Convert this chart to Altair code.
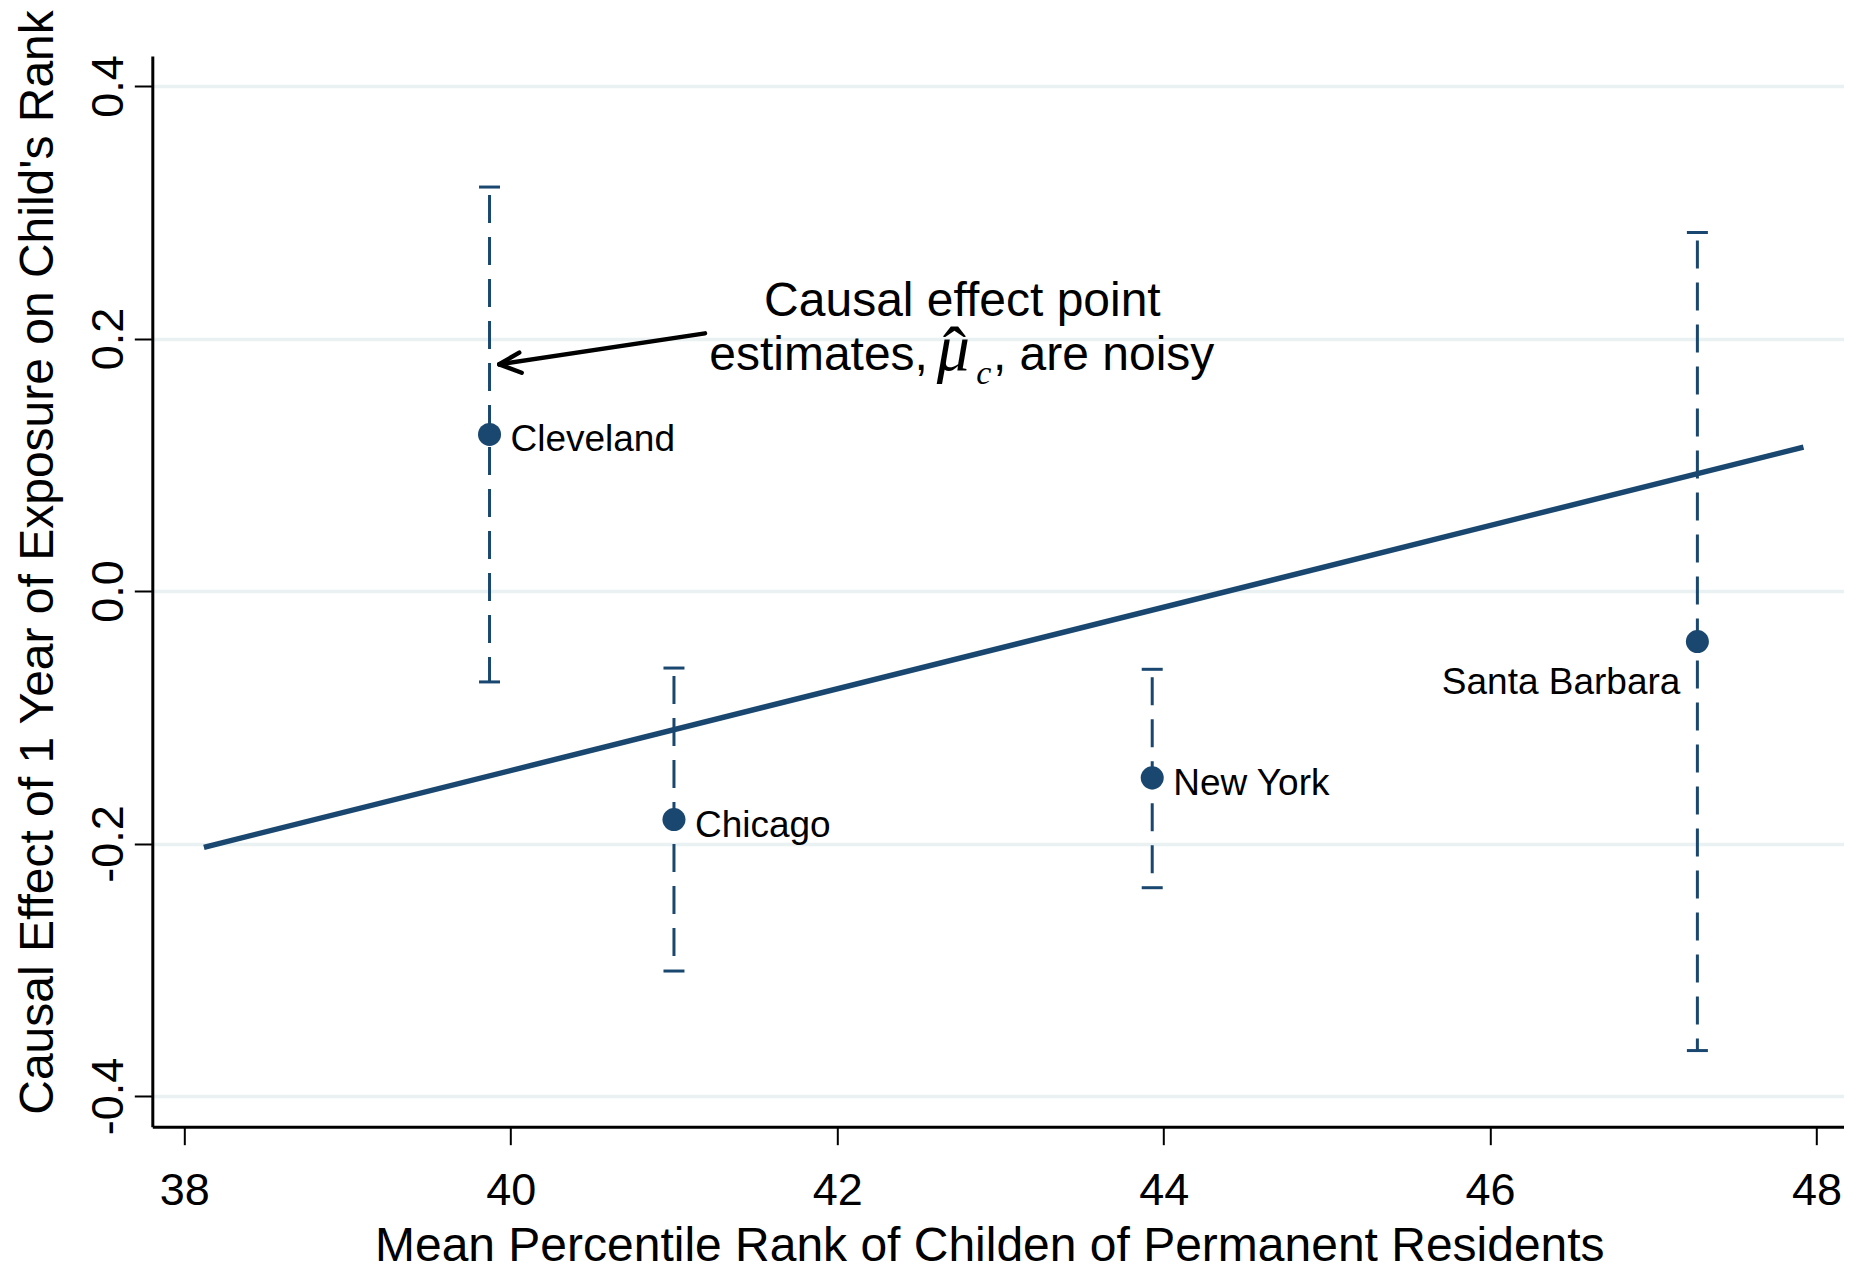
import altair as alt
import pandas as pd

# ---- data ----
cities = ["Cleveland", "Chicago", "New York", "Santa Barbara"]
mean_rank = [39.87, 41.00, 43.93, 47.27]
effect = [0.124, -0.181, -0.148, -0.040]
ci_low = [-0.072, -0.301, -0.235, -0.364]
ci_high = [0.320, -0.061, -0.062, 0.284]

fit_x = [38.12, 47.92]
fit_y = [-0.203, 0.114]

x_ticks = [38, 40, 42, 44, 46, 48]
y_ticks = [-0.4, -0.2, 0.0, 0.2, 0.4]

NAVY = "#1a476f"
FONT = "Liberation Sans"
MATH = "Liberation Serif"

df = pd.DataFrame({"city": cities, "x": mean_rank, "y": effect, "lo": ci_low, "hi": ci_high})
fit = pd.DataFrame({"x": fit_x, "y": fit_y})

xs = alt.Scale(domain=[37.804, 48.17], nice=False, zero=False)
ys = alt.Scale(domain=[-0.4243, 0.4238], nice=False, zero=False)

xaxis = alt.Axis(
    values=x_ticks, format="d", grid=False,
    title="Mean Percentile Rank of Childen of Permanent Residents",
    titleFont=FONT, titleFontSize=48, titleFontWeight="normal", titleColor="black",
    titleX=837, titleY=134, titleAlign="center", titleBaseline="alphabetic", titleAnchor="start",
    labelFont=FONT, labelFontSize=45, labelColor="black", labelBaseline="alphabetic",
    labelPadding=60, labelFlush=False,
    tickSize=18, tickWidth=2, tickColor="black",
    domainColor="black", domainWidth=3,
)
yaxis = alt.Axis(
    values=y_ticks, grid=True, gridColor="#eaf1f3", gridWidth=3.5,
    labelExpr="replace(format(datum.value, '.1f'), '\u2212', '-')",
    title="Causal Effect of 1 Year of Exposure on Child's Rank",
    titleFont=FONT, titleFontSize=48, titleFontWeight="normal", titleColor="black",
    titleAngle=270, titleX=-100, titleY=506, titleAlign="center", titleBaseline="alphabetic",
    labelFont=FONT, labelFontSize=45, labelColor="black", labelAngle=270,
    labelAlign="center", labelBaseline="alphabetic", labelPadding=12, labelFlush=False,
    tickSize=18, tickWidth=2, tickColor="black",
    domainColor="black", domainWidth=3,
)

base = alt.Chart(df)
X = alt.X("x:Q", scale=xs, axis=xaxis)

bars = base.mark_rule(color=NAVY, strokeWidth=3, strokeDash=[28, 14], strokeDashOffset=34).encode(
    x=X, y=alt.Y("hi:Q", scale=ys, axis=yaxis), y2="lo:Q"
)
cap_hi = base.mark_rule(color=NAVY, strokeWidth=3, xOffset=-10.5, x2Offset=10.5).encode(
    x=alt.X("x:Q", scale=xs), x2="x:Q", y=alt.Y("hi:Q", scale=ys)
)
cap_lo = base.mark_rule(color=NAVY, strokeWidth=3, xOffset=-10.5, x2Offset=10.5).encode(
    x=alt.X("x:Q", scale=xs), x2="x:Q", y=alt.Y("lo:Q", scale=ys)
)
fit_line = alt.Chart(fit).mark_line(color=NAVY, strokeWidth=5.5).encode(
    x=alt.X("x:Q", scale=xs), y=alt.Y("y:Q", scale=ys)
)
points = base.mark_circle(size=530, color=NAVY, opacity=1).encode(
    x=alt.X("x:Q", scale=xs), y=alt.Y("y:Q", scale=ys)
)
labels_r = base.transform_filter(alt.datum.city != "Santa Barbara").mark_text(
    align="left", baseline="alphabetic", dx=21, dy=17, font=FONT, fontSize=37, color="black"
).encode(x=alt.X("x:Q", scale=xs), y=alt.Y("y:Q", scale=ys), text="city:N")
labels_l = base.transform_filter(alt.datum.city == "Santa Barbara").mark_text(
    align="right", baseline="alphabetic", dx=-17, dy=52, font=FONT, fontSize=37, color="black"
).encode(x=alt.X("x:Q", scale=xs), y=alt.Y("y:Q", scale=ys), text="city:N")

# ---- annotation ----
def txt(x, y, t, **kw):
    d = pd.DataFrame({"x": [x], "y": [y], "t": [t]})
    return alt.Chart(d).mark_text(baseline="alphabetic", color="black", **kw).encode(
        x=alt.X("x:Q", scale=xs), y=alt.Y("y:Q", scale=ys), text="t:N"
    )

ann1 = txt(42.767, 0.218, "Causal effect point", align="center", font=FONT, fontSize=48)
ann2a = txt(42.556, 0.175, "estimates,", align="right", font=FONT, fontSize=48)
ann_mu = txt(42.712, 0.175, "\u03bc", align="center", font=MATH, fontSize=66, fontStyle="italic")
ann_hat = txt(42.718, 0.1711, "\u02c6", align="center", font=MATH, fontSize=70)
ann_c = txt(42.852, 0.164, "c", align="left", font=MATH, fontSize=34, fontStyle="italic")
ann2b = txt(42.954, 0.175, ", are noisy", align="left", font=FONT, fontSize=48)

arrow = pd.DataFrame({
    "x": [41.190, 40.052, 40.067],
    "y": [0.2041, 0.1888, 0.1729],
    "x2": [39.930, 39.930, 39.930],
    "y2": [0.1796, 0.1796, 0.1796],
})
arrow_rules = alt.Chart(arrow).mark_rule(color="black", strokeWidth=4.5, strokeCap="round").encode(
    x=alt.X("x:Q", scale=xs), y=alt.Y("y:Q", scale=ys), x2="x2:Q", y2="y2:Q"
)

chart = alt.layer(
    bars, cap_hi, cap_lo, fit_line, points, labels_r, labels_l,
    arrow_rules, ann1, ann2a, ann_mu, ann_hat, ann_c, ann2b,
).properties(
    width=1692, height=1070.7,
    autosize=alt.AutoSizeParams(type="none"),
    padding={"left": 144.3, "top": 48, "right": 0, "bottom": 138},
    background="white",
).configure_view(strokeWidth=0)

chart.save("out.html", embed_options={"renderer": "svg", "actions": False})
